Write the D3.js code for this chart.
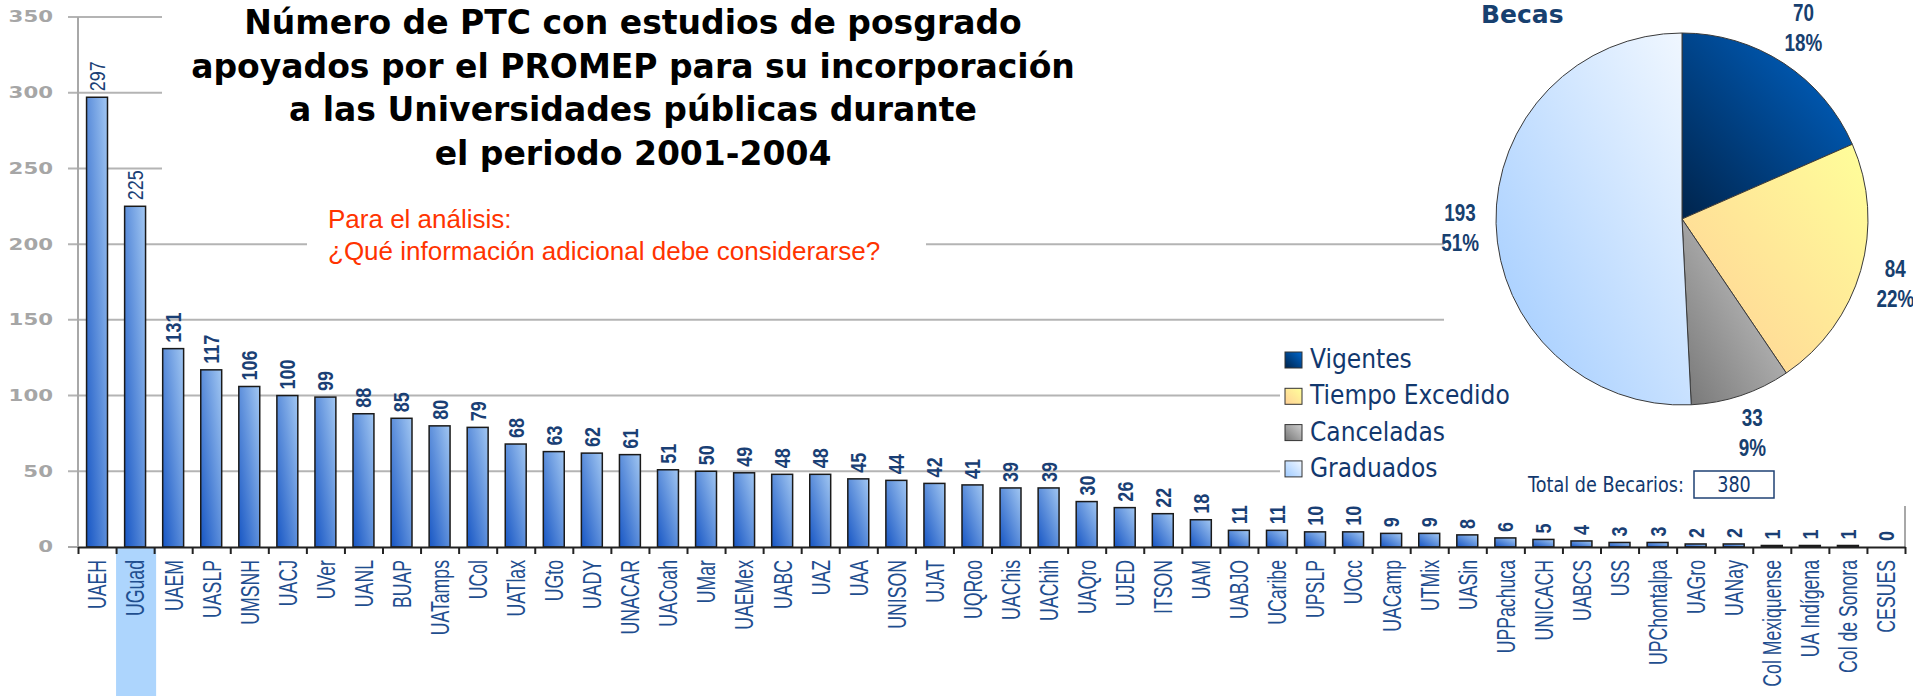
<!DOCTYPE html>
<html>
<head>
<meta charset="utf-8">
<script src="https://cdn.jsdelivr.net/npm/d3@7"></script>
<style>
  html, body { margin: 0; padding: 0; background: #fff; }
  svg { display: block; }
</style>
</head>
<body>
<div id="chart"></div>
<script>
// ---- datos ----
const universidades = [
  "UAEH", "UGuad", "UAEM", "UASLP", "UMSNH", "UACJ", "UVer", "UANL", "BUAP", "UATamps",
  "UCol", "UATlax", "UGto", "UADY", "UNACAR", "UACoah", "UMar", "UAEMex", "UABC", "UAZ",
  "UAA", "UNISON", "UJAT", "UQRoo", "UAChis", "UAChih", "UAQro", "UJED", "ITSON", "UAM",
  "UABJO", "UCaribe", "UPSLP", "UOcc", "UACamp", "UTMix", "UASin", "UPPachuca", "UNICACH", "UABCS",
  "USS", "UPChontalpa", "UAGro", "UANay", "Col Mexiquense", "UA Indígena", "Col de Sonora", "CESUES"
];
const ptc = [
  297, 225, 131, 117, 106, 100, 99, 88, 85, 80,
  79, 68, 63, 62, 61, 51, 50, 49, 48, 48,
  45, 44, 42, 41, 39, 39, 30, 26, 22, 18,
  11, 11, 10, 10, 9, 9, 8, 6, 5, 4,
  3, 3, 2, 2, 1, 1, 1, 0
];
const yTicks = [0, 50, 100, 150, 200, 250, 300, 350];
const resaltado = "UGuad";

const becasCategorias = ["Vigentes", "Tiempo Excedido", "Canceladas", "Graduados"];
const becasValores = [70, 84, 33, 193];

const tituloLineas = [
  "Número de PTC con estudios de posgrado",
  "apoyados por el PROMEP para su incorporación",
  "a las Universidades públicas durante",
  "el periodo 2001-2004"
];
const notaLineas = ["Para el análisis:", "¿Qué información adicional debe considerarse?"];

// ---- lienzo ----
const W = 1913, H = 696;
const svg = d3.select("#chart").append("svg").attr("width", W).attr("height", H);
const plot = { left: 78, right: 1905, top: 17, bottom: 547 };

const x = d3.scaleBand().domain(universidades)
  .range([plot.left, plot.right]).paddingInner(0.45).paddingOuter(0.225);
const xTick = d3.scaleLinear().domain([0, universidades.length]).range([plot.left, plot.right]);
const y = d3.scaleLinear().domain([0, 350]).range([plot.bottom, plot.top]);

// gradientes
const defs = svg.append("defs");
function gradiente(id, c0, c1) {
  const g = defs.append("linearGradient").attr("id", id)
    .attr("x1", 0).attr("y1", 1).attr("x2", 1).attr("y2", 0);
  g.append("stop").attr("offset", 0).attr("stop-color", c0);
  g.append("stop").attr("offset", 1).attr("stop-color", c1);
}
gradiente("gradBar", "#1756c4", "#a2c7f2");
const pieColores = [["#00244c", "#0066cc"], ["#ffd096", "#ffff9a"], ["#767676", "#d0d0d0"], ["#9ecaff", "#f2f8ff"]];
pieColores.forEach((c, i) => gradiente("gradPie" + i, c[0], c[1]));

const sansCond = "'Liberation Sans', Arial, sans-serif";
const tahoma = "'DejaVu Sans', Verdana, sans-serif";

// ---- rejilla ----
svg.append("g").selectAll("line")
  .data(yTicks.filter(d => d > 0))
  .join("line")
    .attr("x1", plot.left - 10).attr("x2", plot.right)
    .attr("y1", d => y(d)).attr("y2", d => y(d))
    .attr("stroke", "#b4b4b4").attr("stroke-width", 2);

// cajas blancas que tapan la rejilla (titulo, nota, pastel, leyenda)
const tapas = [
  [162, 0, 1444 - 162, 205],
  [307, 205, 926 - 307, 85],
  [1444, 0, W - 1444, 506],
  [1280, 335, W - 1280, 171]
];
svg.append("g").selectAll("rect").data(tapas).join("rect")
  .attr("x", d => d[0]).attr("y", d => d[1]).attr("width", d => d[2]).attr("height", d => d[3])
  .attr("fill", "#fff");

// borde derecho visible bajo la leyenda
svg.append("line")
  .attr("x1", plot.right).attr("x2", plot.right).attr("y1", 506).attr("y2", plot.bottom)
  .attr("stroke", "#a8a8a8").attr("stroke-width", 2);

// eje y
svg.append("line")
  .attr("x1", plot.left).attr("x2", plot.left).attr("y1", y(350)).attr("y2", y(0))
  .attr("stroke", "#a8a8a8").attr("stroke-width", 2);
svg.append("line")
  .attr("x1", plot.left - 10).attr("x2", plot.left).attr("y1", y(0)).attr("y2", y(0))
  .attr("stroke", "#a8a8a8").attr("stroke-width", 2);
svg.append("g").selectAll("text").data(yTicks).join("text")
  .attr("transform", d => `translate(53,${y(d)}) scale(1.42,1)`)
  .attr("text-anchor", "end").attr("dy", "0.36em")
  .style("font-family", tahoma).style("font-size", "15px").style("font-weight", "bold")
  .attr("fill", "#a6a6a6")
  .text(d => d);

// resaltado de UGuad
const iRes = universidades.indexOf(resaltado);
svg.append("rect")
  .attr("x", xTick(iRes)).attr("y", plot.bottom + 1)
  .attr("width", xTick(iRes + 1) - xTick(iRes) + 2).attr("height", H - plot.bottom)
  .attr("fill", "#add5fd");

// barras
svg.append("g").selectAll("rect").data(universidades).join("rect")
  .attr("x", d => x(d)).attr("width", x.bandwidth())
  .attr("y", (d, i) => y(ptc[i]))
  .attr("height", (d, i) => y(0) - y(ptc[i]))
  .attr("fill", "url(#gradBar)").attr("stroke", "#1a1a1a").attr("stroke-width", 1.5);

// valores
svg.append("g").selectAll("text").data(universidades).join("text")
  .attr("transform", (d, i) => `translate(${x(d) + x.bandwidth() / 2},${y(ptc[i]) - 6}) rotate(-90) scale(0.82,1)`)
  .attr("text-anchor", "start").attr("dy", "0.36em")
  .style("font-family", sansCond).style("font-size", "22px")
  .style("font-weight", (d, i) => i < 2 ? "normal" : "bold")
  .attr("fill", "#1a3f75")
  .text((d, i) => ptc[i]);

// eje x
const ejeX = svg.append("g").attr("transform", `translate(0,${plot.bottom})`)
  .call(d3.axisBottom(xTick).tickValues(d3.range(universidades.length + 1))
    .tickFormat("").tickSize(7).tickSizeOuter(0));
ejeX.select(".domain").attr("stroke", "#222").attr("stroke-width", 2);
ejeX.selectAll(".tick line").attr("stroke", "#222").attr("stroke-width", 2);

// etiquetas de categoria
svg.append("g").selectAll("text").data(universidades).join("text")
  .attr("transform", d => `translate(${x(d) + x.bandwidth() / 2},560) rotate(-90) scale(0.68,1)`)
  .attr("text-anchor", "end").attr("dy", "0.36em")
  .style("font-family", sansCond).style("font-size", "26px")
  .attr("fill", "#1f4e8f")
  .text(d => d);

// ---- titulo ----
const titulo = svg.append("g").selectAll("text").data(tituloLineas).join("text")
  .attr("text-anchor", "middle")
  .style("font-family", tahoma).style("font-size", "34px").style("font-weight", "bold")
  .attr("fill", "#000")
  .text(d => d);
const anchoMax = d3.max(titulo.nodes(), n => n.getComputedTextLength());
const sxTitulo = 884 / anchoMax;
titulo.attr("transform", (d, i) => `translate(633,${34 + i * 43.7}) scale(${sxTitulo},1)`);

// nota en rojo
svg.append("g").selectAll("text").data(notaLineas).join("text")
  .attr("x", 328).attr("y", (d, i) => 228 + i * 32)
  .style("font-family", sansCond).style("font-size", "26px")
  .attr("fill", "#ff3300")
  .text(d => d);

// ---- pastel de becas ----
svg.append("text")
  .attr("x", 1481).attr("y", 23)
  .style("font-family", tahoma).style("font-size", "25px").style("font-weight", "bold")
  .attr("fill", "#17406f")
  .text("Becas");

const totalBecarios = d3.sum(becasValores);
const arcos = d3.pie().sort(null).value(d => d)(becasValores);
const arco = d3.arc().innerRadius(0).outerRadius(186);
const arcoEtiqueta = d3.arc().innerRadius(222).outerRadius(222);
const gPie = svg.append("g").attr("transform", "translate(1682,219)");

gPie.selectAll("path").data(arcos).join("path")
  .attr("d", arco)
  .attr("fill", (d, i) => `url(#gradPie${i})`)
  .attr("stroke", "#3a3a3a").attr("stroke-width", 1);

// las etiquetas de arriba se suben un poco por encima del centroide
const desp = c => (c[1] < -120 ? -12 : -4);
const etiquetas = gPie.selectAll("g.etq").data(arcos).join("g").attr("class", "etq");
etiquetas.append("text")
  .attr("transform", d => { const c = arcoEtiqueta.centroid(d); return `translate(${c[0]},${c[1] + desp(c)}) scale(0.82,1)`; })
  .text(d => d.data);
etiquetas.append("text")
  .attr("transform", d => { const c = arcoEtiqueta.centroid(d); return `translate(${c[0]},${c[1] + desp(c) + 30}) scale(0.82,1)`; })
  .text(d => Math.round(d.data / totalBecarios * 100) + "%");
etiquetas.selectAll("text")
  .attr("text-anchor", "middle")
  .style("font-family", sansCond).style("font-size", "23px").style("font-weight", "bold")
  .attr("fill", "#17406f");

// leyenda
const leyenda = svg.append("g").selectAll("g").data(becasCategorias).join("g")
  .attr("transform", (d, i) => `translate(1285,${368 + i * 36.3})`);
leyenda.append("rect")
  .attr("x", 0).attr("y", -16).attr("width", 17).attr("height", 16)
  .attr("fill", (d, i) => `url(#gradPie${i})`)
  .attr("stroke", "#333").attr("stroke-width", 1);
leyenda.append("text")
  .attr("transform", "translate(25,0) scale(0.9,1)")
  .style("font-family", tahoma).style("font-size", "26px")
  .attr("fill", "#12386e")
  .text(d => d);

// total
svg.append("text")
  .attr("transform", "translate(1528,492) scale(0.86,1)")
  .style("font-family", tahoma).style("font-size", "20.5px")
  .attr("fill", "#12386e")
  .text("Total de Becarios:");
svg.append("rect")
  .attr("x", 1694).attr("y", 471).attr("width", 80).attr("height", 27)
  .attr("fill", "#fff").attr("stroke", "#1f4274").attr("stroke-width", 1.5);
svg.append("text")
  .attr("transform", "translate(1734,492) scale(0.86,1)")
  .attr("text-anchor", "middle")
  .style("font-family", tahoma).style("font-size", "20.5px")
  .attr("fill", "#12386e")
  .text(totalBecarios);
</script>
</body>
</html>
